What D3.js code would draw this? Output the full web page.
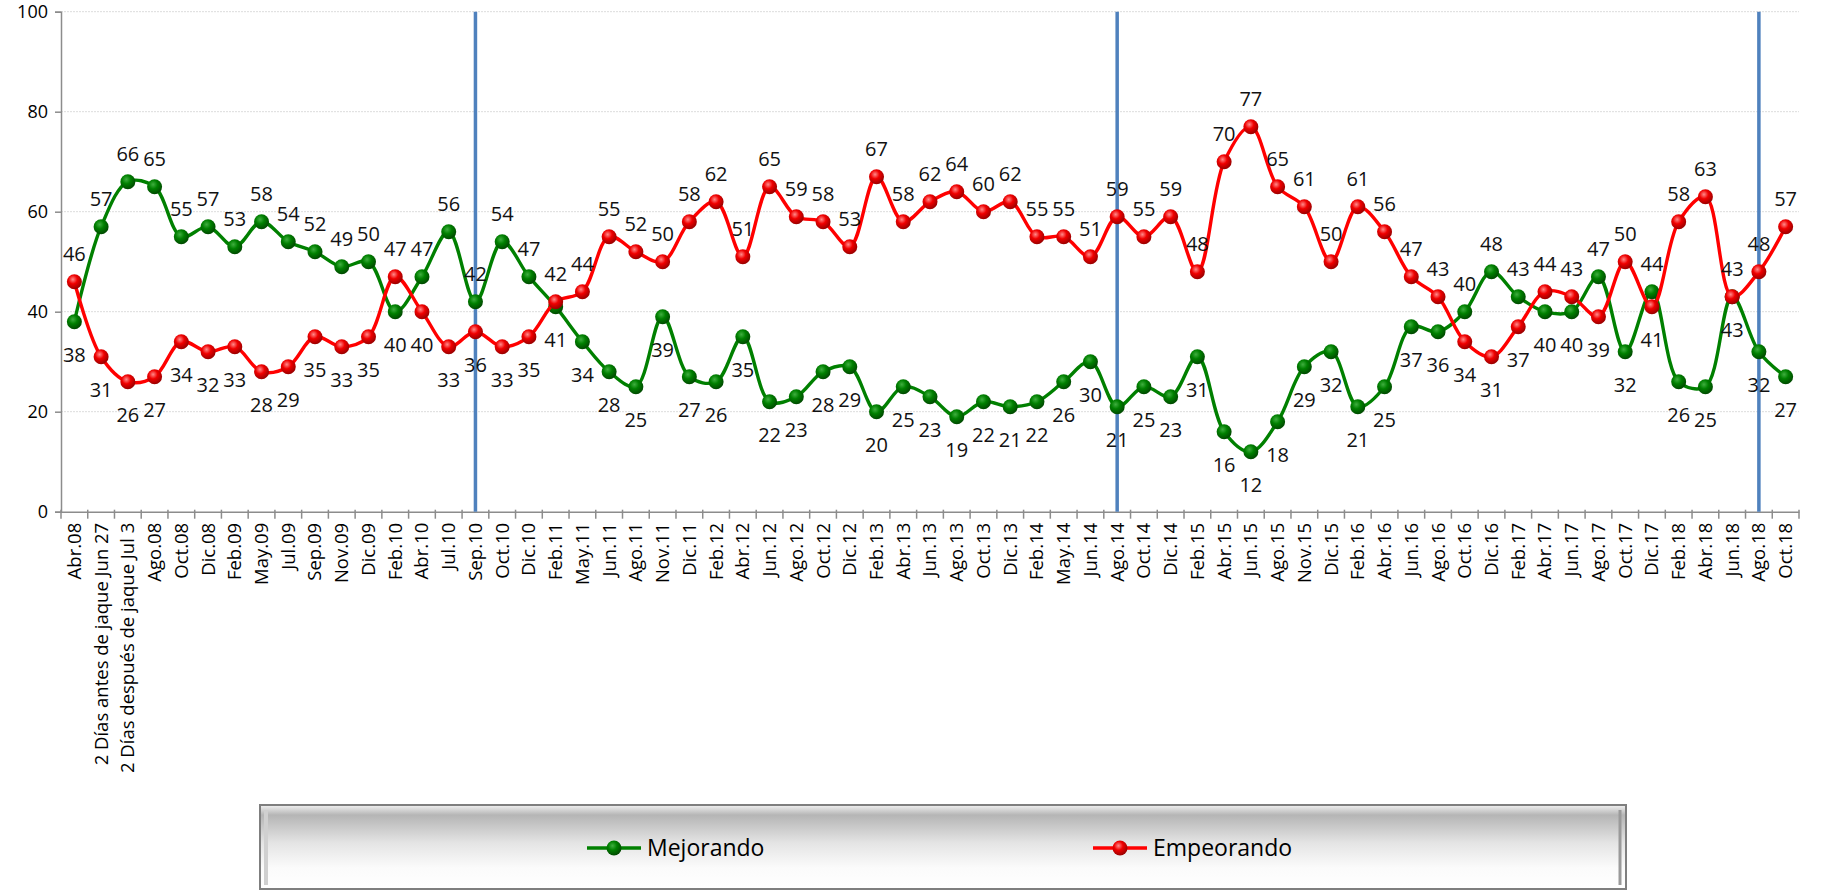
<!DOCTYPE html>
<html lang="es">
<head>
<meta charset="UTF-8">
<title>Mejorando / Empeorando</title>
<script src="https://d3js.org/d3.v7.min.js"></script>
<style>
  body, html { margin: 0; padding: 0; background: #fff; }
  svg { display: block; font-family: "Open Sans", "Noto Sans", sans-serif; }
</style>
</head>
<body>
<div id="chart"></div>
<script>
// categories (survey dates)
const categories = [
  "Abr.08", "2 Días antes de jaque Jun 27", "2 Días después de jaque Jul 3", "Ago.08", "Oct.08", "Dic.08",
  "Feb.09", "May.09", "Jul.09", "Sep.09", "Nov.09", "Dic.09", "Feb.10", "Abr.10", "Jul.10", "Sep.10",
  "Oct.10", "Dic.10", "Feb.11", "May.11", "Jun.11", "Ago.11", "Nov.11", "Dic.11", "Feb.12", "Abr.12",
  "Jun.12", "Ago.12", "Oct.12", "Dic.12", "Feb.13", "Abr.13", "Jun.13", "Ago.13", "Oct.13", "Dic.13",
  "Feb.14", "May.14", "Jun.14", "Ago.14", "Oct.14", "Dic.14", "Feb.15", "Abr.15", "Jun.15", "Ago.15",
  "Nov.15", "Dic.15", "Feb.16", "Abr.16", "Jun.16", "Ago.16", "Oct.16", "Dic.16", "Feb.17", "Abr.17",
  "Jun.17", "Ago.17", "Oct.17", "Dic.17", "Feb.18", "Abr.18", "Jun.18", "Ago.18", "Oct.18"
];

const mejorando = [
  38, 57, 66, 65, 55, 57, 53, 58, 54, 52, 49, 50, 40, 47, 56, 42,
  54, 47, 41, 34, 28, 25, 39, 27, 26, 35, 22, 23, 28, 29, 20, 25,
  23, 19, 22, 21, 22, 26, 30, 21, 25, 23, 31, 16, 12, 18, 29, 32,
  21, 25, 37, 36, 40, 48, 43, 40, 40, 47, 32, 44, 26, 25, 43, 32, 27
];

const empeorando = [
  46, 31, 26, 27, 34, 32, 33, 28, 29, 35, 33, 35, 47, 40, 33, 36,
  33, 35, 42, 44, 55, 52, 50, 58, 62, 51, 65, 59, 58, 53, 67, 58,
  62, 64, 60, 62, 55, 55, 51, 59, 55, 59, 48, 70, 77, 65, 61, 50,
  61, 56, 47, 43, 34, 31, 37, 44, 43, 39, 50, 41, 58, 63, 43, 48, 57
];

const seriesNames = ["Mejorando", "Empeorando"];
const yTicks = [0, 20, 40, 60, 80, 100];
// dates marked with a vertical blue line
const markerCats = ["Sep.10", "Ago.14", "Ago.18"];

const W = 1834, H = 891;
const plotLeft = 61, plotRight = 1799, plotTop = 11.7, plotBottom = 511.7;

const svg = d3.select("#chart").append("svg")
  .attr("width", W).attr("height", H);

const defs = svg.append("defs");
function ballGradient(id, light, mid, dark) {
  const g = defs.append("radialGradient").attr("id", id)
    .attr("cx", "40%").attr("cy", "35%").attr("r", "65%");
  g.append("stop").attr("offset", "0%").attr("stop-color", light);
  g.append("stop").attr("offset", "45%").attr("stop-color", mid);
  g.append("stop").attr("offset", "100%").attr("stop-color", dark);
}
ballGradient("ballGreen", "#3fae3f", "#008000", "#004a00");
ballGradient("ballRed", "#ff8a8a", "#f00000", "#9a0000");

const lg = defs.append("linearGradient").attr("id", "legendBg")
  .attr("x1", 0).attr("y1", 0).attr("x2", 0).attr("y2", 1);
lg.append("stop").attr("offset", "0%").attr("stop-color", "#f2f2f2");
lg.append("stop").attr("offset", "12%").attr("stop-color", "#b5b5b5");
lg.append("stop").attr("offset", "45%").attr("stop-color", "#e4e4e4");
lg.append("stop").attr("offset", "75%").attr("stop-color", "#fbfbfb");
lg.append("stop").attr("offset", "100%").attr("stop-color", "#ffffff");

const x = d3.scaleBand().domain(categories).range([plotLeft, plotRight]);
const y = d3.scaleLinear().domain([0, 100]).range([plotBottom, plotTop]);
const cx = c => x(c) + x.bandwidth() / 2;

// gridlines
svg.append("g").selectAll("line")
  .data(yTicks.filter(t => t > 0))
  .join("line")
  .attr("x1", plotLeft).attr("x2", plotRight)
  .attr("y1", d => y(d)).attr("y2", d => y(d))
  .attr("stroke", "#dcdcdc").attr("stroke-width", 1)
  .attr("stroke-dasharray", "2,1");

// y axis
const yAxis = svg.append("g")
  .attr("transform", `translate(${plotLeft},0)`)
  .call(d3.axisLeft(y).tickValues(yTicks).tickSize(6).tickPadding(7));
yAxis.select(".domain").attr("stroke", "#8c8c8c").attr("stroke-width", 1.5);
yAxis.selectAll(".tick line").attr("stroke", "#8c8c8c").attr("stroke-width", 1.5);
yAxis.selectAll(".tick text").attr("font-size", 18).attr("fill", "#000")
  .attr("font-family", "'Open Sans', sans-serif");

// x axis: labels at band centres, ticks at band edges
const xAxis = svg.append("g")
  .attr("transform", `translate(0,${plotBottom})`)
  .call(d3.axisBottom(x).tickSize(0).tickPadding(10));
xAxis.select(".domain").attr("stroke", "#8c8c8c").attr("stroke-width", 1.5);
xAxis.selectAll(".tick text")
  .attr("font-size", 18.5).attr("fill", "#000")
  .attr("font-family", "'Open Sans', sans-serif")
  .attr("text-anchor", "end")
  .attr("dx", "-0.6em").attr("dy", "0.35em")
  .attr("transform", "rotate(-90)")
  .attr("x", 0).attr("y", 0);
svg.append("g").selectAll("line")
  .data(categories.concat([null]))
  .join("line")
  .attr("x1", d => d === null ? plotRight : x(d))
  .attr("x2", d => d === null ? plotRight : x(d))
  .attr("y1", plotBottom - 2).attr("y2", plotBottom + 7)
  .attr("stroke", "#8c8c8c").attr("stroke-width", 1.5);

// vertical blue markers
svg.append("g").selectAll("line")
  .data(markerCats)
  .join("line")
  .attr("x1", d => cx(d)).attr("x2", d => cx(d))
  .attr("y1", plotTop).attr("y2", plotBottom)
  .attr("stroke", "#4f81bd").attr("stroke-width", 3.5);

const series = [
  { name: seriesNames[0], values: mejorando, other: empeorando, color: "#008000", grad: "url(#ballGreen)", upOnTie: false },
  { name: seriesNames[1], values: empeorando, other: mejorando, color: "#ff0000", grad: "url(#ballRed)", upOnTie: true }
];

const line = d3.line()
  .x((d, i) => cx(categories[i]))
  .y(d => y(d))
  .curve(d3.curveCatmullRom.alpha(0.5));

series.forEach(s => {
  const g = svg.append("g");
  g.append("path")
    .datum(s.values)
    .attr("d", line)
    .attr("fill", "none")
    .attr("stroke", s.color)
    .attr("stroke-width", 3.4);
  g.selectAll("circle")
    .data(s.values)
    .join("circle")
    .attr("cx", (d, i) => cx(categories[i]))
    .attr("cy", d => y(d))
    .attr("r", 7.5)
    .attr("fill", s.grad);
});

// data labels: the higher series labelled above, the lower below
series.forEach(s => {
  svg.append("g").selectAll("text")
    .data(s.values)
    .join("text")
    .attr("x", (d, i) => cx(categories[i]))
    .attr("y", (d, i) => {
      const o = s.other[i];
      const up = d > o || (d === o && s.upOnTie);
      return up ? y(d) - 21 : y(d) + 40;
    })
    .attr("text-anchor", "middle")
    .attr("font-size", 20)
    .attr("fill", "#111")
    .text(d => d);
});

// legend
const legend = svg.append("g");
legend.append("rect")
  .attr("x", 260).attr("y", 805).attr("width", 1366).attr("height", 84)
  .attr("fill", "url(#legendBg)")
  .attr("stroke", "#7f7f7f").attr("stroke-width", 2);
legend.append("line")
  .attr("x1", 266).attr("x2", 266).attr("y1", 810).attr("y2", 885)
  .attr("stroke", "#d0d0d0").attr("stroke-width", 4);
legend.append("line")
  .attr("x1", 1620).attr("x2", 1620).attr("y1", 810).attr("y2", 885)
  .attr("stroke", "#9a9a9a").attr("stroke-width", 3);

const legendX = [614, 1120];
series.forEach((s, i) => {
  const lx = legendX[i], ly = 848;
  legend.append("line")
    .attr("x1", lx - 27).attr("x2", lx + 27).attr("y1", ly).attr("y2", ly)
    .attr("stroke", s.color).attr("stroke-width", 3.5);
  legend.append("circle")
    .attr("cx", lx).attr("cy", ly).attr("r", 7.5).attr("fill", s.grad);
  legend.append("text")
    .attr("x", lx + 33).attr("y", ly + 8)
    .attr("font-size", 23).attr("fill", "#000")
    .attr("font-family", "'Open Sans', sans-serif")
    .text(s.name);
});
</script>
</body>
</html>
